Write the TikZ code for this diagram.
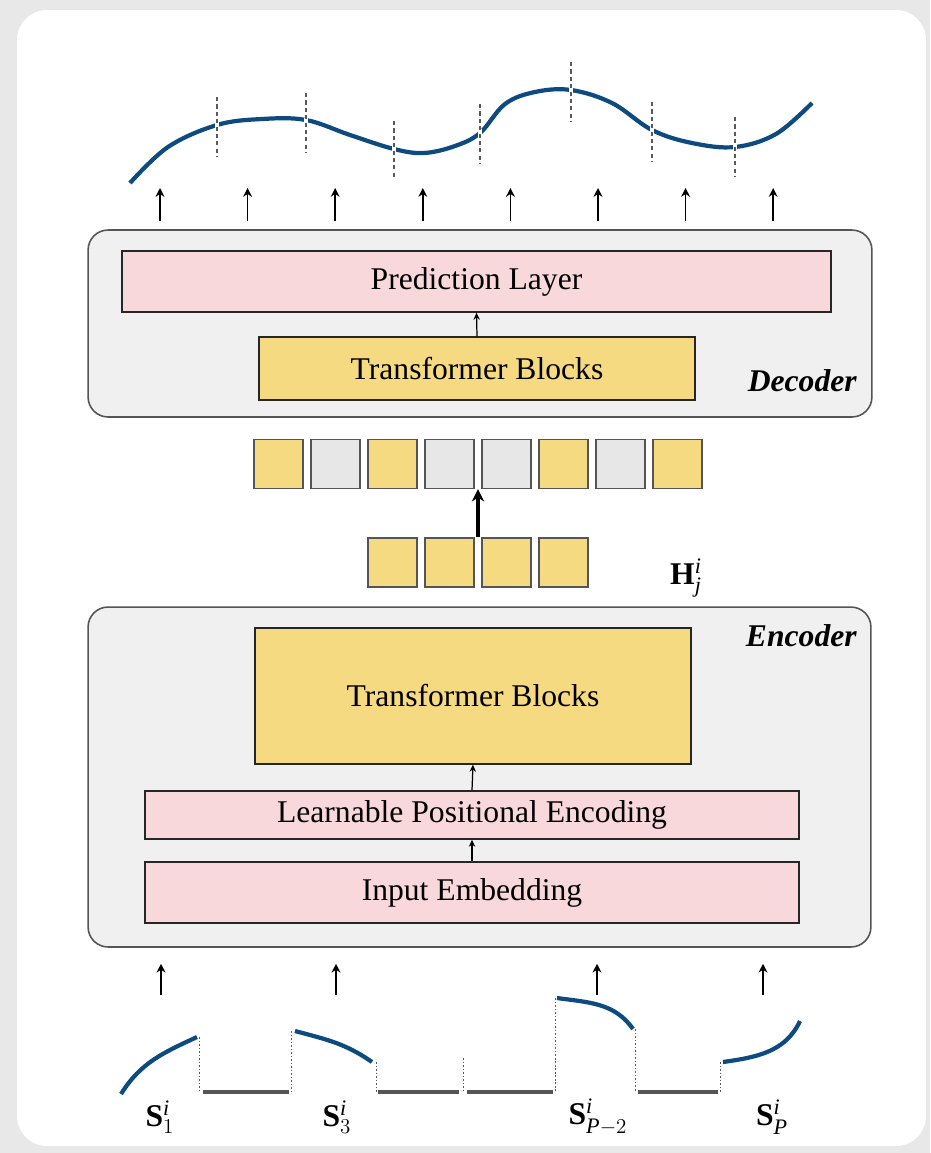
\documentclass[tikz,border=0pt]{standalone}
\usepackage{fontspec}
\setmainfont{Liberation Serif}
\usepackage{amsmath}
\usepackage{tikz}
\usetikzlibrary{arrows.meta,calc}

\definecolor{cardgray}{HTML}{E8E8E8}
\definecolor{boxgray}{HTML}{F0F0F0}
\definecolor{edgegray}{HTML}{555555}
\definecolor{layerpink}{HTML}{F9D8DB}
\definecolor{blockyellow}{HTML}{F6DA82}
\definecolor{tokengray}{HTML}{E7E7E7}
\definecolor{seriesblue}{HTML}{0D4A80}

\begin{document}
\begin{tikzpicture}[x=0.02cm, y=-0.02cm,
            frame/.style={rectangle, draw=edgegray, line width=0.9pt, rounded corners=0.4cm,
            fill=boxgray, inner sep=0pt},
            layer/.style={rectangle, draw=black!85, line width=0.8pt, fill=layerpink,
            font=\fontsize{18}{21}\selectfont, inner sep=0pt},
            block/.style={rectangle, draw=black!85, line width=0.8pt, fill=blockyellow,
            font=\fontsize{18}{21}\selectfont, inner sep=0pt},
            token/.style={rectangle, draw=edgegray, line width=0.8pt, minimum size=0.98cm, inner sep=0pt},
            tag/.style={font=\fontsize{18}{20}\selectfont\bfseries\itshape, inner sep=0pt},
            sym/.style={font=\fontsize{18}{20}\selectfont, inner sep=0pt},
            uparrow/.style={-{Stealth[length=5pt,width=5pt]}, line width=1pt, black},
            inarrow/.style={-{Stealth[length=4pt,width=3.6pt]}, line width=0.7pt, black},
            series/.style={seriesblue, line width=2.4pt},
            cut/.style={gray!70!black, line width=1pt, dash pattern=on 2.4pt off 1.8pt},
            guide/.style={gray!70!black, line width=0.5pt, dash pattern=on 1pt off 1pt},
            gap/.style={edgegray, line width=1.9pt},
        ]

            %% Hintergrund
            \useasboundingbox (0,0) rectangle (930,1153);
            \fill[cardgray] (0,0) rectangle (930,1153);
            \fill[white, rounded corners=0.6cm] (17,10) rectangle (926,1146);

            %% Decoder
            \node[frame, minimum width=15.68cm, minimum height=3.74cm] (dec) at (480,323.5) {};
            \node[layer, minimum width=14.18cm, minimum height=1.22cm] (pred) at (476.5,281.5) {Prediction Layer};
            \node[block, minimum width=8.72cm, minimum height=1.26cm] (dectb) at (477,368.5) {Transformer Blocks};
            \draw[inarrow] (dectb.north) -- (pred.south);
            \node[tag, anchor=base east] (declbl) at (857,391) {Decoder};

            %% Ausgabe-Pfeile
            \foreach \i in {0,...,7} {
                \coordinate (outt\i) at (160+87.6*\i,188);
                \draw[uparrow] ([yshift=0.16cm]dec.north -| outt\i) -- (outt\i);
            }

            %% Vorhersage
            \draw[series] plot[smooth, tension=0.6] coordinates {
                (130,183) (168,147) (217,125) (262,119) (306,120) (350,135) (394,149)
                (424,153) (455,146) (480,133) (505,104) (535,92) (571,90) (612,103)
                (652,130) (692,143) (735,147) (776,134) (812,103)};
            \foreach \x/\ya/\yb in {217/97/157, 306/93/153, 394/121/180, 480/104/164,
                                    571/62/122, 652/102/162, 735/117/177} {
                \draw[white, line width=2.6pt] (\x,\ya+25) -- (\x,\yb-25);
                \draw[cut] (\x,\ya) -- (\x,\yb);
            }

            %% Tokens
            \foreach \i/\c in {0/blockyellow, 1/tokengray, 2/blockyellow, 3/tokengray,
                               4/tokengray, 5/blockyellow, 6/tokengray, 7/blockyellow} {
                \node[token, fill=\c] (tok\i) at (278.5+57*\i,464) {};
            }
            \foreach \i in {0,...,3} {
                \node[token, fill=blockyellow] (hid\i) at (392.5+57*\i,562.5) {};
            }
            \draw[-{Stealth[length=7pt,width=7pt]}, line width=2pt]
                ($(hid1.north east)!0.5!(hid2.north west)$) -- ($(tok3.south east)!0.5!(tok4.south west)$);
            \node[sym] (hlbl) at (686,578) {$\mathbf{H}_{\mathit{j}}^{\mathit{i}}$};

            %% Encoder
            \node[frame, minimum width=15.66cm, minimum height=6.8cm] (enc) at (479.5,777) {};
            \node[block, minimum width=8.72cm, minimum height=2.72cm] (enctb) at (473,696) {Transformer Blocks};
            \node[layer, minimum width=13.08cm, minimum height=0.96cm] (lpe) at (472,815) {Learnable Positional Encoding};
            \node[layer, minimum width=13.08cm, minimum height=1.22cm] (ie) at (472,892.5) {Input Embedding};
            \draw[inarrow] (lpe.north) -- (enctb.south);
            \draw[inarrow] (ie.north) -- (lpe.south);
            \node[tag, anchor=base east] (enclbl) at (857,646) {Encoder};

            %% Eingabe-Pfeile
            \foreach \i/\x in {0/161, 1/336, 2/597, 3/763} {
                \coordinate (in\i) at (\x,995);
                \draw[uparrow] (in\i) -- ([yshift=-0.32cm]enc.south -| in\i);
            }

            %% Patches (teilweise maskiert)
            \draw[series] (121,1094) to[out=58, in=205] (197,1037);
            \draw[series] (295,1031) to[out=-15, in=145] (372,1062);
            \draw[series] (557,998) to[out=-8, in=125] (633,1029);
            \draw[series] (723,1062) to[out=8, in=-115] (800,1021);
            \foreach \x/\y in {199/1037, 291/1031, 376/1062, 463/1058, 555/998, 635/1029, 720/1062} {
                \draw[guide] (\x,\y) -- (\x,1092);
            }
            \foreach \xa/\xb in {203/289, 378/459, 467/553, 638/718} {
                \draw[gap] (\xa,1092) -- (\xb,1092);
            }

            \node[sym] (s1) at (160,1117) {$\mathbf{S}_1^{\mathit{i}}$};
            \node[sym] (s3) at (337,1117) {$\mathbf{S}_3^{\mathit{i}}$};
            \node[sym] (sp2) at (598,1117) {$\mathbf{S}_{\mathit{P}-2}^{\mathit{i}}$};
            \node[sym] (sp) at (772,1117) {$\mathbf{S}_{\mathit{P}}^{\mathit{i}}$};

        \end{tikzpicture}
\end{document}
